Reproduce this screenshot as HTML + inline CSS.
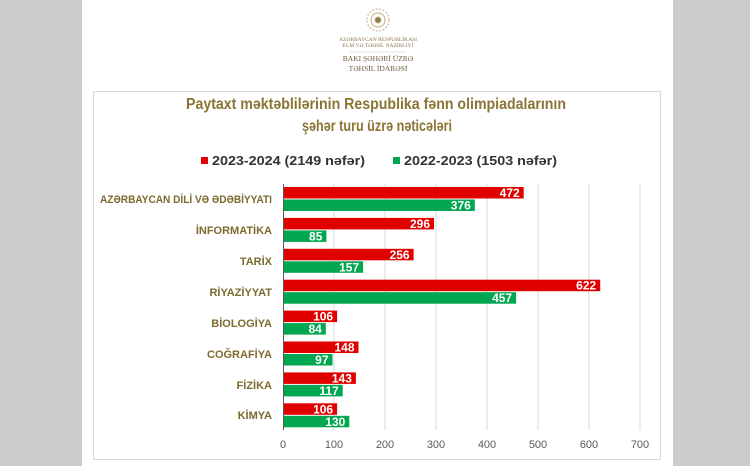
<!DOCTYPE html>
<html><head><meta charset="utf-8"><style>
body{margin:0;width:750px;height:466px;overflow:hidden;background:#fff;font-family:"Liberation Sans",sans-serif}
</style></head><body>
<svg width="750" height="466" xmlns="http://www.w3.org/2000/svg" font-family="Liberation Sans, DejaVu Sans, sans-serif">
<rect x="0" y="0" width="82" height="466" fill="#cccccc"/>
<rect x="673" y="0" width="77" height="466" fill="#cccccc"/>
<rect x="93.5" y="91.5" width="567" height="368" fill="#fff" stroke="#d9d9d9"/>
<g transform="translate(378,20)" stroke="#c2ae78" fill="none" stroke-width="1">
<circle r="11" stroke-dasharray="2 1.5"/><circle r="7"/><circle r="3" fill="#8a7a4a"/>
</g>
<g font-family="Liberation Serif, serif" fill="#8a7550" text-anchor="middle">
<text x="378" y="41" font-size="5.5">AZƏRBAYCAN RESPUBLİKASI</text>
<text x="378" y="47" font-size="5.5">ELM VƏ TƏHSİL NAZİRLİYİ</text>
<line x1="350" y1="52" x2="406" y2="52" stroke="#ccc" stroke-width="0.6"/>
<text x="378" y="61" font-size="7.5" fill="#6b5a3a">BAKI ŞƏHƏRİ ÜZRƏ</text>
<text x="378" y="71" font-size="7.5" fill="#6b5a3a">TƏHSİL İDARƏSİ</text>
</g>
<g font-weight="bold" fill="#8b7433" font-size="15.5">
<text x="186" y="109" textLength="380" lengthAdjust="spacingAndGlyphs">Paytaxt məktəblilərinin Respublika fənn olimpiadalarının</text>
<text x="302" y="131" textLength="150" lengthAdjust="spacingAndGlyphs">şəhər turu üzrə nəticələri</text>
</g>
<g font-weight="bold" font-size="13" fill="#333">
<rect x="201" y="157" width="7" height="7" fill="#e00000"/>
<text x="212" y="165" textLength="153" lengthAdjust="spacingAndGlyphs">2023-2024 (2149 nəfər)</text>
<rect x="393" y="157" width="7" height="7" fill="#00a650"/>
<text x="404" y="165" textLength="153" lengthAdjust="spacingAndGlyphs">2022-2023 (1503 nəfər)</text>
</g>
<g stroke="#d9d9d9" stroke-width="1">
<line x1="334" y1="184" x2="334" y2="430"/><line x1="385" y1="184" x2="385" y2="430"/>
<line x1="436" y1="184" x2="436" y2="430"/><line x1="487" y1="184" x2="487" y2="430"/>
<line x1="538" y1="184" x2="538" y2="430"/><line x1="589" y1="184" x2="589" y2="430"/>
<line x1="640" y1="184" x2="640" y2="430"/>
</g>
<g font-size="11" fill="#595959" text-anchor="middle">
<text x="283" y="448">0</text><text x="334" y="448">100</text><text x="385" y="448">200</text>
<text x="436" y="448">300</text><text x="487" y="448">400</text><text x="538" y="448">500</text>
<text x="589" y="448">600</text><text x="640" y="448">700</text>
</g>
<g fill="#e00000">
<rect x="283" y="187" width="240.7" height="11.5"/>
<rect x="283" y="217.9" width="151" height="11.5"/>
<rect x="283" y="248.8" width="130.6" height="11.5"/>
<rect x="283" y="279.7" width="317.2" height="11.5"/>
<rect x="283" y="310.6" width="54.1" height="11.5"/>
<rect x="283" y="341.5" width="75.5" height="11.5"/>
<rect x="283" y="372.4" width="72.9" height="11.5"/>
<rect x="283" y="403.3" width="54.1" height="11.5"/>
</g>
<g fill="#00a650">
<rect x="283" y="199.5" width="191.8" height="11.5"/>
<rect x="283" y="230.4" width="43.4" height="11.5"/>
<rect x="283" y="261.3" width="80.1" height="11.5"/>
<rect x="283" y="292.2" width="233.1" height="11.5"/>
<rect x="283" y="323.1" width="42.8" height="11.5"/>
<rect x="283" y="354" width="49.5" height="11.5"/>
<rect x="283" y="384.9" width="59.7" height="11.5"/>
<rect x="283" y="415.8" width="66.3" height="11.5"/>
</g>
<g fill="#fff" font-weight="bold" font-size="12" text-anchor="end">
<text x="519.7" y="197">472</text><text x="470.8" y="209.5">376</text>
<text x="430" y="228">296</text><text x="322.4" y="240.4">85</text>
<text x="409.6" y="258.8">256</text><text x="359.1" y="271.3">157</text>
<text x="596.2" y="289.7">622</text><text x="512.1" y="302.2">457</text>
<text x="333.1" y="320.6">106</text><text x="321.8" y="333.1">84</text>
<text x="354.5" y="351.5">148</text><text x="328.5" y="364">97</text>
<text x="351.9" y="382.4">143</text><text x="338.7" y="394.9">117</text>
<text x="333.1" y="413.3">106</text><text x="345.3" y="425.8">130</text>
</g>
<g fill="#7d6a2e" font-weight="bold" font-size="11" text-anchor="end">
<text x="272" y="203" textLength="172" lengthAdjust="spacingAndGlyphs">AZƏRBAYCAN DİLİ VƏ ƏDƏBİYYATI</text>
<text x="272" y="234">İNFORMATİKA</text>
<text x="272" y="265">TARİX</text>
<text x="272" y="296">RİYAZİYYAT</text>
<text x="272" y="327">BİOLOGİYA</text>
<text x="272" y="358">COĞRAFİYA</text>
<text x="272" y="389">FİZİKA</text>
<text x="272" y="419">KİMYA</text>
</g>
<line x1="283.5" y1="184" x2="283.5" y2="430" stroke="#595959" stroke-width="1"/>
</svg>
</body></html>
